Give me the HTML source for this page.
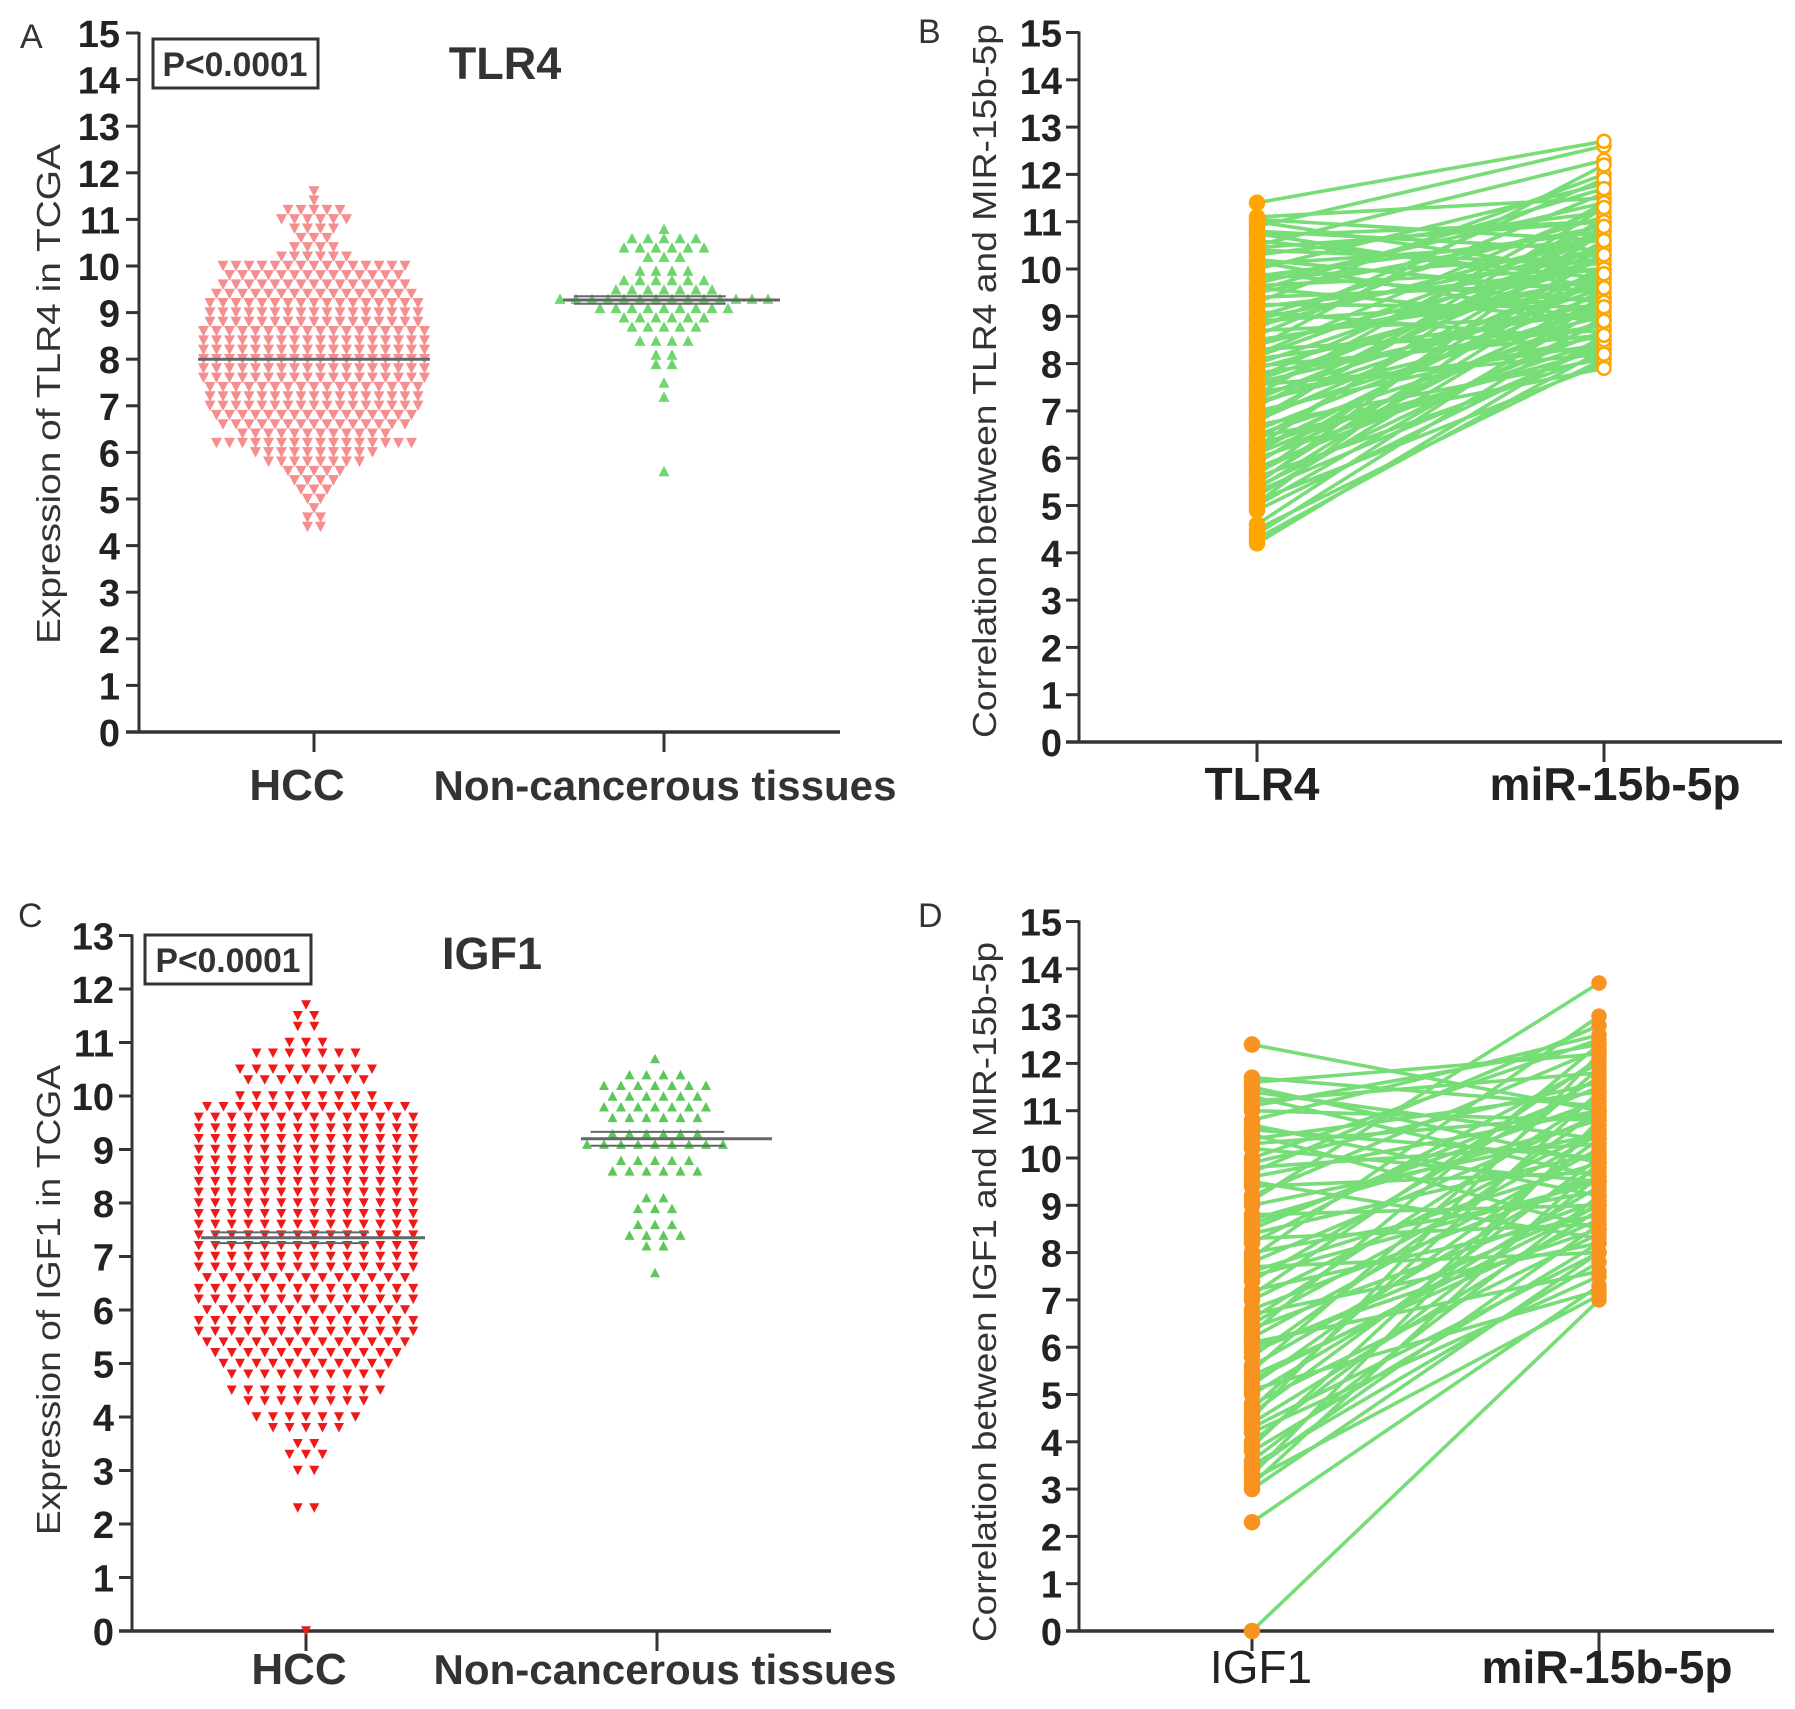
<!DOCTYPE html>
<html><head><meta charset="utf-8">
<style>
html,body{margin:0;padding:0;background:#fff;}
svg{display:block;font-family:"Liberation Sans",Arial,sans-serif;}
</style></head>
<body>
<svg id="fig" width="1795" height="1709" viewBox="0 0 1795 1709" xmlns="http://www.w3.org/2000/svg">
<rect width="1795" height="1709" fill="#fff"/>
<text x="20" y="48" font-size="34" fill="#333">A</text>
<text x="918" y="43" font-size="34" fill="#333">B</text>
<text x="18" y="927" font-size="34" fill="#333">C</text>
<text x="918" y="927" font-size="34" fill="#333">D</text>

<text x="505" y="79" font-size="45" font-weight="bold" fill="#333" text-anchor="middle">TLR4</text>
<text x="492" y="969" font-size="45" font-weight="bold" fill="#333" text-anchor="middle">IGF1</text>

<g>
<rect x="153" y="39" width="165" height="49" fill="none" stroke="#333" stroke-width="3"/>
<text x="235" y="76" font-size="34" font-weight="bold" fill="#333" text-anchor="middle" textLength="145" lengthAdjust="spacingAndGlyphs">P&lt;0.0001</text>
</g>
<g>
<rect x="145" y="935" width="166" height="49" fill="none" stroke="#333" stroke-width="3"/>
<text x="228" y="972" font-size="34" font-weight="bold" fill="#333" text-anchor="middle" textLength="145" lengthAdjust="spacingAndGlyphs">P&lt;0.0001</text>
</g>

<text transform="translate(60,394) rotate(-90)" font-size="33" fill="#333" text-anchor="middle" textLength="500" lengthAdjust="spacingAndGlyphs">Expression of  TLR4 in TCGA</text>
<text transform="translate(60,1300) rotate(-90)" font-size="33" fill="#333" text-anchor="middle" textLength="470" lengthAdjust="spacingAndGlyphs">Expression of IGF1 in TCGA</text>
<text transform="translate(996,381) rotate(-90)" font-size="33" fill="#333" text-anchor="middle" textLength="714" lengthAdjust="spacingAndGlyphs">Correlation between TLR4 and MIR-15b-5p</text>
<text transform="translate(996,1292) rotate(-90)" font-size="33" fill="#333" text-anchor="middle" textLength="700" lengthAdjust="spacingAndGlyphs">Correlation between IGF1 and MIR-15b-5p</text>

<text x="297" y="800" font-size="44" font-weight="bold" fill="#333" text-anchor="middle">HCC</text>
<text x="665" y="800" font-size="42" font-weight="bold" fill="#333" text-anchor="middle" textLength="463" lengthAdjust="spacingAndGlyphs">Non-cancerous tissues</text>
<text x="299" y="1684" font-size="44" font-weight="bold" fill="#333" text-anchor="middle">HCC</text>
<text x="665" y="1684" font-size="42" font-weight="bold" fill="#333" text-anchor="middle" textLength="463" lengthAdjust="spacingAndGlyphs">Non-cancerous tissues</text>
<text x="1262" y="800" font-size="46" font-weight="bold" fill="#222" text-anchor="middle">TLR4</text>
<text x="1615" y="800" font-size="46" font-weight="bold" fill="#222" text-anchor="middle" textLength="251" lengthAdjust="spacingAndGlyphs">miR-15b-5p</text>
<text x="1261" y="1683" font-size="46" fill="#222" text-anchor="middle">IGF1</text>
<text x="1607" y="1683" font-size="46" font-weight="bold" fill="#222" text-anchor="middle" textLength="251" lengthAdjust="spacingAndGlyphs">miR-15b-5p</text>
</svg>
<script>
// ---------- Data ----------
const tlr4HccLevels = [4.4,4.6,4.8,5.0,5.2,5.4,5.6,5.8,6.0,6.2,6.4,6.6,6.8,7.0,7.2,7.4,7.6,7.8,8.0,8.2,8.4,8.6,8.8,9.0,9.2,9.4,9.6,9.8,10.0,10.2,10.4,10.6,10.8,11.0,11.2,11.4,11.6];
const tlr4HccCounts = [2,2,1,2,3,4,5,8,10,16,12,15,16,17,17,17,18,18,18,18,18,18,17,17,17,16,15,14,15,6,4,3,4,6,5,1,1];
const tlr4NonLevels = [5.6,7.2,7.5,7.9,8.1,8.4,8.7,8.9,9.1,9.3,9.5,9.7,9.9,10.2,10.4,10.6,10.8];
const tlr4NonCounts = [1,1,1,2,2,4,5,6,9,14,7,6,4,3,6,5,1];
const tlr4Means = [8.0, 9.27];
const igf1HccLevels = [0.0,2.3,3.0,3.3,3.5,3.8,4.0,4.3,4.5,4.8,5.0,5.2,5.4,5.6,5.8,6.0,6.2,6.4,6.6,6.8,7.0,7.2,7.4,7.6,7.8,8.0,8.2,8.4,8.6,8.8,9.0,9.2,9.4,9.6,9.8,10.0,10.3,10.5,10.8,11.0,11.3,11.5,11.7];
const igf1HccCounts = [1,2,2,3,2,5,7,8,10,10,11,12,13,14,14,13,14,14,13,14,14,14,14,14,14,14,14,14,14,14,14,14,14,14,13,9,8,9,7,3,2,2,1];
const igf1NonLevels = [6.7,7.2,7.4,7.6,7.9,8.1,8.6,8.8,9.1,9.3,9.6,9.8,10.0,10.2,10.4,10.7];
const igf1NonCounts = [1,2,4,3,3,2,6,5,9,6,6,7,6,7,4,1];
const igf1Means = [7.35, 9.2];
const pairTlr4 = [4.2,4.3,4.4,4.5,4.9,5.0,5.1,5.2,5.3,5.4,5.5,5.6,5.7,5.8,5.9,6.0,6.1,6.2,6.3,6.4,6.5,6.6,6.7,6.8,6.9,7.0,7.1,7.2,7.3,7.4,7.5,7.6,7.7,7.8,7.9,8.0,8.1,8.2,8.3,8.4,8.5,8.6,8.7,8.8,8.9,9.0,9.1,9.2,9.3,9.4,9.5,9.6,9.7,9.8,9.9,10.0,10.1,10.2,10.3,10.4,10.5,10.6,10.7,10.8,10.9,11.0,11.1,11.4,
 4.6,5.05,5.35,5.65,5.95,6.25,6.45,6.85,7.15,7.35,7.65,7.95,8.15,8.45,8.75,8.95,9.25,9.55,9.85,10.15,10.45,10.75,11.05,6.75,7.25,8.35,9.65,5.45,6.15,7.55];
const pairMirB = [8.6,8.3,9.0,8.1,8.5,9.2,8.0,9.6,8.4,8.9,10.1,8.2,9.4,8.7,10.3,8.5,9.1,9.8,8.3,10.6,8.9,9.5,8.1,10.0,9.2,8.6,10.8,9.0,9.7,8.4,10.4,9.3,11.0,8.8,9.9,10.5,9.1,11.3,8.7,10.2,9.6,11.6,9.0,10.7,9.4,11.1,8.5,10.0,12.0,9.7,10.9,8.9,11.4,10.3,9.3,11.8,10.6,9.5,11.2,10.1,12.3,9.8,11.0,10.4,12.6,9.9,11.5,12.7,
 9.4,10.5,9.9,10.8,9.3,11.1,7.9,10.9,9.6,11.4,10.2,8.6,10.8,9.8,11.9,10.4,9.2,11.7,10.8,8.9,11.0,9.6,10.6,11.3,10.3,12.2,10.0,10.9,9.9,8.2];
const pairIgf1 = [0.0,2.3,3.0,3.2,3.4,3.6,3.8,4.0,4.2,4.4,4.6,4.8,5.0,5.2,5.4,5.6,5.8,6.0,6.2,6.4,6.6,6.8,7.0,7.2,7.4,7.6,7.8,8.0,8.2,8.4,8.6,8.8,9.0,9.2,9.4,9.6,9.8,10.0,10.2,10.4,10.6,10.8,11.0,11.2,11.4,11.6,11.7,12.4,
 3.1,3.5,3.9,4.3,4.7,5.1,5.5,5.9,6.3,6.7,7.1,7.5,7.9,8.3,8.7,9.1,9.5,9.9,10.3,10.7,11.1,11.5,4.5,6.5,8.5,10.5,5.3,7.7,9.7,3.3,11.3,6.1];
const pairMirD = [7.0,7.3,8.0,7.1,8.6,9.2,8.2,9.6,7.5,8.9,10.0,8.4,9.4,10.4,8.7,9.8,11.0,8.5,10.2,9.1,11.3,9.6,10.6,8.8,11.7,9.9,10.9,9.3,12.0,10.1,11.2,9.0,10.5,12.3,9.7,11.0,10.3,12.5,9.5,11.4,10.0,12.6,10.8,11.8,10.4,12.2,11.1,11.0,
 9.9,7.8,10.7,8.0,11.4,7.2,11.9,9.0,12.4,8.2,12.1,9.5,13.0,8.6,10.8,13.7,8.3,11.6,10.9,9.2,12.4,9.9,12.2,10.5,11.5,8.5,9.0,8.0,12.8,10.8,9.6,7.6];

// ---------- Helpers ----------
const NS = "http://www.w3.org/2000/svg";
const svg = document.getElementById("fig");
function mk(tag, attrs, parent) {
  const e = document.createElementNS(NS, tag);
  for (const k in attrs) e.setAttribute(k, attrs[k]);
  (parent || svg).appendChild(e);
  return e;
}
function yScale(y0px, unit) { return v => y0px - v * unit; }

function drawAxes(name, axX, y0, unit, maxV, xEnd, ticksX, labelRight) {
  const g = mk("g", {});
  
  
  const ys = yScale(y0, unit);
  const yl = mk("line", {x1: axX, y1: ys(maxV) - 1, x2: axX, y2: y0, stroke: "#333", "stroke-width": 3}, g);
  
  
  const xl = mk("line", {x1: axX - 13, y1: y0, x2: xEnd, y2: y0, stroke: "#333", "stroke-width": 3.5}, g);
  
  
  for (let v = 0; v <= maxV; v++) {
    const t = mk("line", {x1: axX - 13, y1: ys(v), x2: axX, y2: ys(v), stroke: "#333", "stroke-width": 3}, g);
    
    
    const tx = mk("text", {x: labelRight, y: ys(v) + 14, "font-size": 38, "font-weight": "bold", fill: "#222", "text-anchor": "end"}, g);
    tx.textContent = String(v);
    
    
  }
  ticksX.forEach(x => {
    const t = mk("line", {x1: x, y1: y0, x2: x, y2: y0 + 20, stroke: "#333", "stroke-width": 3}, g);
    
    
  });
  return ys;
}

function triPath(cx, cy, s, down) {
  const h = s * 0.95;
  if (down) return `M${cx - s/2},${cy - h/2} L${cx + s/2},${cy - h/2} L${cx},${cy + h/2} Z`;
  return `M${cx - s/2},${cy + h/2} L${cx + s/2},${cy + h/2} L${cx},${cy - h/2} Z`;
}

function drawSwarm(name, levels, counts, ys, cx, spacing, size, color, down) {
  const g = mk("g", {fill: color});
  
  
  levels.forEach((lv, li) => {
    const n = counts[li];
    for (let i = 0; i < n; i++) {
      const x = cx + (i - (n - 1) / 2) * spacing;
      const p = mk("path", {d: triPath(x, ys(lv), size, down)}, g);
      
      
    }
  });
}

function drawMean(name, ys, v, x1, x2, err) {
  const g = mk("g", {stroke: "#666"});
  
  
  const l = mk("line", {x1: x1, y1: ys(v), x2: x2, y2: ys(v), "stroke-width": 3}, g);
  
  
  if (err) {
    const cx = (x1 + x2) / 2 - (x2 - x1) * 0.1;
    const w = (x2 - x1) * 0.35;
    [v - err, v + err].forEach(e => {
      const b = mk("line", {x1: cx - w, y1: ys(e), x2: cx + w, y2: ys(e), "stroke-width": 2}, g);
      
      
    });
  }
}

function drawPaired(name, leftVals, rightVals, ys, xL, xR, color, dotColor, hollowRight) {
  const g = mk("g", {});
  
  
  const lines = mk("g", {stroke: color, "stroke-width": 3.6}, g);
  
  
  leftVals.forEach((lv, i) => {
    const l = mk("line", {x1: xL, y1: ys(lv), x2: xR, y2: ys(rightVals[i])}, lines);
    
    
  });
  leftVals.forEach(lv => {
    const c = mk("circle", {cx: xL, cy: ys(lv), r: 7.5, fill: dotColor, stroke: dotColor, "stroke-width": 1.5}, g);
    
    
  });
  rightVals.forEach(rv => {
    const c = mk("circle", {cx: xR, cy: ys(rv), r: 6.5, fill: hollowRight ? "#fff" : dotColor, stroke: dotColor, "stroke-width": 2.5}, g);
    
    
  });
}

// ---------- Panel A ----------
const ysA = drawAxes("panel-a", 139, 732, 46.6, 15, 840, [314, 664], 120);
drawSwarm("tlr4-hcc-points", tlr4HccLevels, tlr4HccCounts, ysA, 314, 13, 11, "#f58e8e", true);
drawSwarm("tlr4-noncancer-points", tlr4NonLevels, tlr4NonCounts, ysA, 664, 16, 11, "#6fd66f", false);
drawMean("tlr4-hcc-mean", ysA, tlr4Means[0], 198, 430, 0);
drawMean("tlr4-noncancer-mean", ysA, tlr4Means[1], 563, 780, 0.08);

// ---------- Panel B ----------
const ysB = drawAxes("panel-b", 1079, 742, 47.3, 15, 1782, [1257, 1604], 1062);
drawPaired("tlr4-mir-pairs", pairTlr4, pairMirB, ysB, 1257, 1604, "#77dd77", "#ffa500", true);

// ---------- Panel C ----------
const ysC = drawAxes("panel-c", 132, 1631, 53.5, 13, 831, [306, 657], 114);
drawSwarm("igf1-hcc-points", igf1HccLevels, igf1HccCounts, ysC, 306, 16.5, 10, "#ee1a1a", true);
drawSwarm("igf1-noncancer-points", igf1NonLevels, igf1NonCounts, ysC, 655, 17, 10, "#5cc85c", false);
drawMean("igf1-hcc-mean", ysC, igf1Means[0], 201, 425, 0.1);
drawMean("igf1-noncancer-mean", ysC, igf1Means[1], 581, 772, 0.13);

// ---------- Panel D ----------
const ysD = drawAxes("panel-d", 1079, 1631, 47.3, 15, 1774, [1252, 1599], 1062);
drawPaired("igf1-mir-pairs", pairIgf1, pairMirD, ysD, 1252, 1599, "#77dd77", "#f7931e", false);
</script>
</body></html>
